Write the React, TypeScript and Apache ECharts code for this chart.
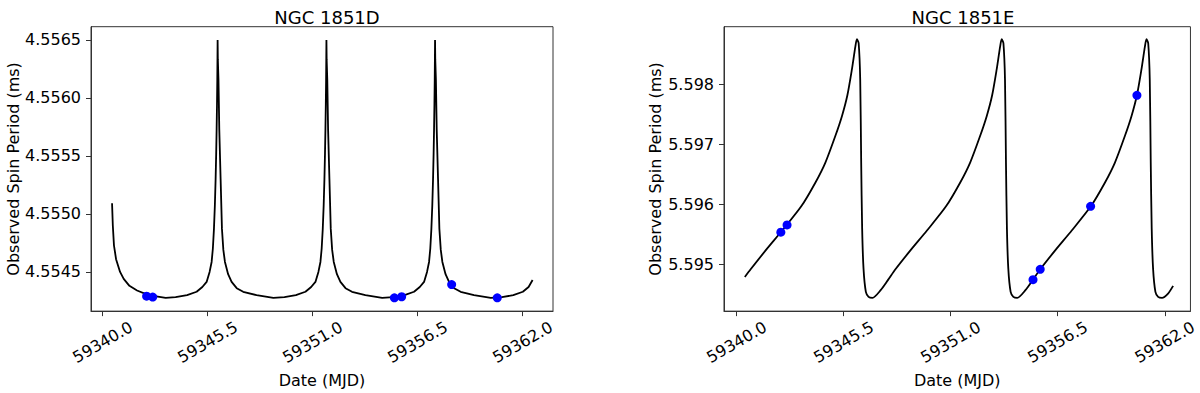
import React, { useEffect, useRef } from "react";
import * as echarts from "echarts";

// NGC 1851D model curve (MJD, spin period in ms)
const dMjd = [
  59340.49, 59340.53, 59340.59, 59340.70, 59340.91, 59341.10, 59341.40, 59341.80, 59342.40, 59343.30,
  59343.82, 59344.42, 59344.92, 59345.22, 59345.444, 59345.60, 59345.706, 59345.77, 59345.828, 59345.875,
  59345.915, 59345.945, 59345.968, 59345.988, 59346.003, 59346.013, 59346.020,
  59346.032, 59346.065, 59346.107, 59346.177, 59346.247, 59346.320, 59346.404, 59346.570, 59346.753,
  59347.020, 59347.360, 59348.060, 59348.940,
  59349.52, 59350.12, 59350.62, 59350.92, 59351.144, 59351.30, 59351.406, 59351.47, 59351.528, 59351.575,
  59351.615, 59351.645, 59351.668, 59351.688, 59351.703, 59351.713, 59351.720,
  59351.732, 59351.765, 59351.807, 59351.877, 59351.947, 59352.020, 59352.104, 59352.270, 59352.453,
  59352.720, 59353.060, 59353.760, 59354.640,
  59355.21, 59355.81, 59356.31, 59356.61, 59356.834, 59356.99, 59357.096, 59357.16, 59357.218, 59357.265,
  59357.305, 59357.335, 59357.358, 59357.378, 59357.393, 59357.403, 59357.410,
  59357.422, 59357.455, 59357.497, 59357.567, 59357.637, 59357.710, 59357.794, 59357.960, 59358.143,
  59358.410, 59358.750, 59359.450, 59360.330,
  59360.91, 59361.51, 59362.01, 59362.31, 59362.52,
];
const dPeriod = [
  4.555092, 4.5549, 4.554729, 4.55461, 4.5545, 4.55444, 4.55438, 4.55434, 4.5543, 4.554277,
  4.554282, 4.5543, 4.554329, 4.55437, 4.554414, 4.5545, 4.554586, 4.5547, 4.554871, 4.55507,
  4.5553, 4.55552, 4.555729, 4.55595, 4.556157, 4.55635, 4.5565,
  4.55633, 4.556157, 4.555729, 4.5553, 4.554871, 4.55469, 4.554586, 4.55448, 4.554414,
  4.55436, 4.554329, 4.5543, 4.554277,
  4.554282, 4.5543, 4.554329, 4.55437, 4.554414, 4.5545, 4.554586, 4.5547, 4.554871, 4.55507,
  4.5553, 4.55552, 4.555729, 4.55595, 4.556157, 4.55635, 4.5565,
  4.55633, 4.556157, 4.555729, 4.5553, 4.554871, 4.55469, 4.554586, 4.55448, 4.554414,
  4.55436, 4.554329, 4.5543, 4.554277,
  4.554282, 4.5543, 4.554329, 4.55437, 4.554414, 4.5545, 4.554586, 4.5547, 4.554871, 4.55507,
  4.5553, 4.55552, 4.555729, 4.55595, 4.556157, 4.55635, 4.5565,
  4.55633, 4.556157, 4.555729, 4.5553, 4.554871, 4.55469, 4.554586, 4.55448, 4.554414,
  4.55436, 4.554329, 4.5543, 4.554277,
  4.554282, 4.5543, 4.554329, 4.55437, 4.55443,
];
// NGC 1851D observations
const dObsMjd = [59342.30, 59342.62, 59355.28, 59355.66, 59358.28, 59360.67];
const dObsPeriod = [4.554291, 4.554283, 4.554277, 4.554286, 4.554391, 4.554277];

// NGC 1851E model curve
const eMjd = [
  59340.42, 59340.72, 59341.49, 59342.34, 59343.32, 59344.05, 59344.56, 59345.07, 59345.41, 59345.69,
  59345.92, 59346.10, 59346.18, 59346.27, 59346.35, 59346.40, 59346.45, 59346.52, 59346.64, 59346.78, 59346.98,
  59347.40, 59347.79, 59348.16, 59348.93, 59349.78, 59350.76, 59351.49, 59352.00, 59352.51, 59352.85,
  59353.13, 59353.36, 59353.54, 59353.62, 59353.71, 59353.79, 59353.84, 59353.89, 59353.96, 59354.08,
  59354.22, 59354.42,
  59354.84, 59355.23, 59355.60, 59356.37, 59357.22, 59358.20, 59358.93, 59359.44, 59359.95, 59360.29,
  59360.57, 59360.80, 59360.98, 59361.06, 59361.15, 59361.23, 59361.28, 59361.33, 59361.40, 59361.52,
  59361.66, 59361.86, 59362.17, 59362.43,
];
const ePeriod = [
  5.594796, 5.594923, 5.595238, 5.595569, 5.595972, 5.59637, 5.596702, 5.597144, 5.597475, 5.597823,
  5.598249, 5.598635, 5.598757, 5.598691, 5.598083, 5.596702, 5.595597, 5.594934, 5.594547, 5.594464, 5.594447,
  5.594575, 5.594751, 5.594923, 5.595238, 5.595569, 5.595972, 5.59637, 5.596702, 5.597144, 5.597475,
  5.597823, 5.598249, 5.598635, 5.598757, 5.598691, 5.598083, 5.596702, 5.595597, 5.594934, 5.594547,
  5.594464, 5.594447,
  5.594575, 5.594751, 5.594923, 5.595238, 5.595569, 5.595972, 5.59637, 5.596702, 5.597144, 5.597475,
  5.597823, 5.598249, 5.598635, 5.598757, 5.598691, 5.598083, 5.596702, 5.595597, 5.594934, 5.594547,
  5.594464, 5.594447, 5.594519, 5.594647,
];
// NGC 1851E observations
const eObsMjd = [59342.27, 59342.59, 59355.23, 59355.60, 59358.19, 59360.57];
const eObsPeriod = [5.595542, 5.595663, 5.594751, 5.594922, 5.595973, 5.597823];

const xTicks = [59340.0, 59345.5, 59351.0, 59356.5, 59362.0];
const dYTicks = [4.5545, 4.555, 4.5555, 4.556, 4.5565];
const eYTicks = [5.595, 5.596, 5.597, 5.598];
const titles = ["NGC 1851D", "NGC 1851E"];

const zip = (a: number[], b: number[]) => a.map((v, i) => [v, b[i]]);

export default function App() {
  const ref = useRef<HTMLDivElement>(null);
  useEffect(() => {
    if (!ref.current) return;
    const chart = echarts.init(ref.current, null, { renderer: "svg" });
    const font = "DejaVu Sans";
    const axisColor = "#333";
    const xAxisBase = (gridIndex: number, min: number, max: number) => ({
      type: "value",
      gridIndex,
      min,
      max,
      name: "Date (MJD)",
      nameLocation: "middle",
      nameGap: 56,
      nameTextStyle: { fontFamily: font, fontSize: 16, color: "#000" },
      axisLine: { show: true, onZero: false, lineStyle: { color: axisColor, width: 1 } },
      axisTick: { show: true, inside: false, length: 5, customValues: xTicks, lineStyle: { color: axisColor } },
      axisLabel: {
        customValues: xTicks,
        formatter: (v: number) => v.toFixed(1),
        rotate: 30,
        align: "center",
        verticalAlign: "middle",
        margin: 31,
        fontFamily: font,
        fontSize: 16,
        color: "#000",
      },
      splitLine: { show: false },
    });
    const yAxisBase = (gridIndex: number, min: number, max: number, ticks: number[], dec: number, gap: number) => ({
      type: "value",
      gridIndex,
      min,
      max,
      name: "Observed Spin Period (ms)",
      nameLocation: "middle",
      nameGap: gap,
      nameTextStyle: { fontFamily: font, fontSize: 16, color: "#000" },
      axisLine: { show: true, onZero: false, lineStyle: { color: axisColor, width: 1 } },
      axisTick: { show: true, inside: false, length: 5, customValues: ticks, lineStyle: { color: axisColor } },
      axisLabel: {
        customValues: ticks,
        formatter: (v: number) => v.toFixed(dec),
        margin: 10,
        fontFamily: font,
        fontSize: 16,
        color: "#000",
      },
      splitLine: { show: false },
    });
    chart.setOption({
      animation: false,
      backgroundColor: "#fff",
      title: [
        { text: titles[0], left: 322, top: 3, textAlign: "center", textStyle: { fontFamily: font, fontSize: 18, fontWeight: "normal", color: "#000" } },
        { text: titles[1], left: 958, top: 3, textAlign: "center", textStyle: { fontFamily: font, fontSize: 18, fontWeight: "normal", color: "#000" } },
      ],
      grid: [
        { left: 91, right: 647, top: 26.7, bottom: 80.3, show: true, borderColor: axisColor, borderWidth: 1, containLabel: false },
        { left: 724, right: 7.3, top: 26.7, bottom: 80.3, show: true, borderColor: axisColor, borderWidth: 1, containLabel: false },
      ],
      xAxis: [xAxisBase(0, 59339.387, 59363.589), xAxisBase(1, 59339.35, 59363.32)],
      yAxis: [
        yAxisBase(0, 4.554162, 4.556614, dYTicks, 4, 70),
        yAxisBase(1, 5.594226, 5.598966, eYTicks, 3, 61),
      ],
      series: [
        {
          type: "line",
          xAxisIndex: 0,
          yAxisIndex: 0,
          data: zip(dMjd, dPeriod),
          showSymbol: false,
          symbol: "none",
          lineStyle: { color: "#000", width: 1.8 },
          z: 2,
        },
        {
          type: "scatter",
          xAxisIndex: 0,
          yAxisIndex: 0,
          data: zip(dObsMjd, dObsPeriod),
          symbolSize: 9,
          itemStyle: { color: "#0000ff", opacity: 1 },
          z: 3,
        },
        {
          type: "line",
          xAxisIndex: 1,
          yAxisIndex: 1,
          data: zip(eMjd, ePeriod),
          showSymbol: false,
          symbol: "none",
          smooth: 0.25,
          lineStyle: { color: "#000", width: 1.8 },
          z: 2,
        },
        {
          type: "scatter",
          xAxisIndex: 1,
          yAxisIndex: 1,
          data: zip(eObsMjd, eObsPeriod),
          symbolSize: 9,
          itemStyle: { color: "#0000ff", opacity: 1 },
          z: 3,
        },
      ],
    });
    return () => chart.dispose();
  }, []);
  return <div ref={ref} style={{ width: 1200, height: 393, position: "absolute", left: 0, top: 0 }} />;
}
